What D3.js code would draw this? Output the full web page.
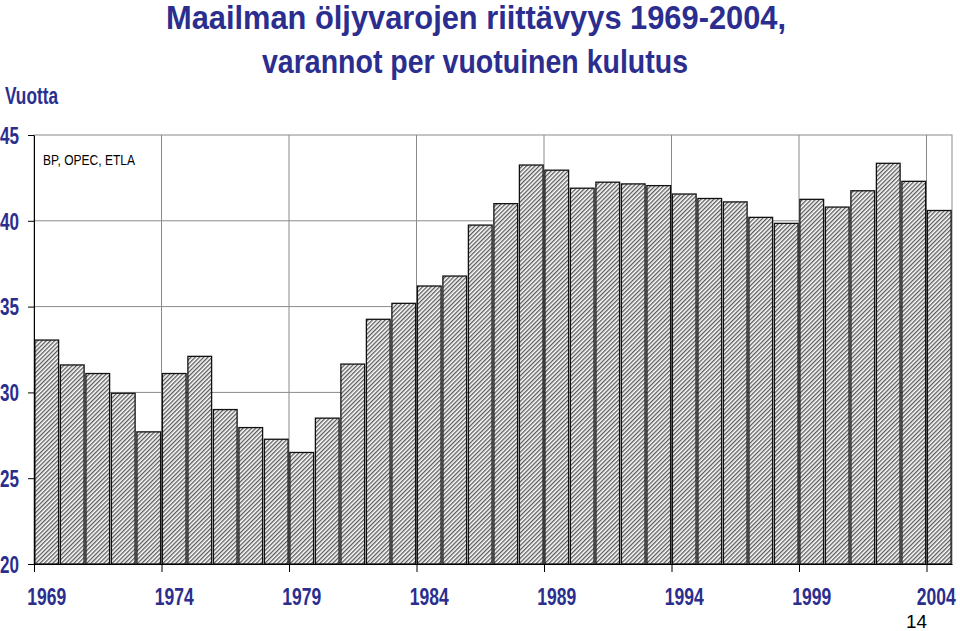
<!DOCTYPE html>
<html>
<head>
<meta charset="utf-8">
<script src="https://cdn.jsdelivr.net/npm/d3@7"></script>
<style>
  html, body { margin: 0; padding: 0; background: #fff; }
  svg { display: block; }
</style>
</head>
<body>
<div id="chart"></div>
<script>
/* ── Data ── */
const years = [
  1969, 1970, 1971, 1972, 1973, 1974, 1975, 1976, 1977, 1978, 1979, 1980,
  1981, 1982, 1983, 1984, 1985, 1986, 1987, 1988, 1989, 1990, 1991, 1992,
  1993, 1994, 1995, 1996, 1997, 1998, 1999, 2000, 2001, 2002, 2003, 2004,
];
const reserveYears = [
  33.05, 31.6, 31.1, 29.95, 27.7, 31.1, 32.1, 29.0, 27.95, 27.27, 26.5, 28.5,
  31.65, 34.26, 35.19, 36.2, 36.78, 39.75, 41.0, 43.25, 42.95, 41.9, 42.25, 42.15,
  42.05, 41.56, 41.3, 41.1, 40.2, 39.85, 41.25, 40.8, 41.75, 43.35, 42.3, 40.6,
];
const yTicks = [20, 25, 30, 35, 40, 45];
const xLabelYears = [1969, 1974, 1979, 1984, 1989, 1994, 1999, 2004];
const titleLines = ['Maailman öljyvarojen riittävyys 1969-2004,', 'varannot per vuotuinen kulutus'];

const W = 960, H = 631;
const BLUE = '#2b2e8e';
const GRID = '#8a8a8a';
const FONT = "'Liberation Sans', Arial, sans-serif";

const plot = { left: 34, right: 952, top: 135, bottom: 564 };

const svg = d3.select('#chart').append('svg')
  .attr('width', W).attr('height', H);

/* hatch fill */
const defs = svg.append('defs');
const pat = defs.append('pattern')
  .attr('id', 'hatch')
  .attr('patternUnits', 'userSpaceOnUse')
  .attr('width', 3).attr('height', 3)
  .attr('patternTransform', 'rotate(45)');
pat.append('rect').attr('width', 3).attr('height', 3).attr('fill', '#fff');
pat.append('line')
  .attr('x1', 0.75).attr('y1', 0).attr('x2', 0.75).attr('y2', 3)
  .attr('stroke', '#222').attr('stroke-width', 1);

/* ── Scales ── */
const yearEdge = d3.scaleLinear()
  .domain([years[0], years[years.length - 1] + 1])
  .range([plot.left, plot.right]);
const x = d3.scaleBand()
  .domain(years)
  .range([plot.left, plot.right])
  .paddingInner(0.07)
  .paddingOuter(0.035);
const y = d3.scaleLinear()
  .domain([20, 45])
  .range([plot.bottom, plot.top]);

/* ── Grid ── */
const grid = svg.append('g');
grid.selectAll('line.h')
  .data(yTicks.slice(1, -1))
  .join('line')
  .attr('x1', plot.left).attr('x2', plot.right)
  .attr('y1', d => y(d)).attr('y2', d => y(d))
  .attr('stroke', GRID).attr('stroke-width', 1);
grid.selectAll('line.v')
  .data(xLabelYears.slice(1))
  .join('line')
  .attr('x1', d => yearEdge(d)).attr('x2', d => yearEdge(d))
  .attr('y1', plot.top).attr('y2', plot.bottom)
  .attr('stroke', GRID).attr('stroke-width', 1);
grid.append('rect')
  .attr('x', plot.left).attr('y', plot.top)
  .attr('width', plot.right - plot.left)
  .attr('height', plot.bottom - plot.top)
  .attr('fill', 'none')
  .attr('stroke', GRID).attr('stroke-width', 1);

/* ── Bars ── */
svg.append('g').selectAll('rect')
  .data(years.map((yr, i) => ({ yr, v: reserveYears[i] })))
  .join('rect')
  .attr('x', d => x(d.yr))
  .attr('y', d => y(d.v))
  .attr('width', x.bandwidth())
  .attr('height', d => y(20) - y(d.v))
  .attr('fill', 'url(#hatch)')
  .attr('stroke', '#111')
  .attr('stroke-width', 1.3);

/* ── Axes ── */
const yAxis = svg.append('g')
  .attr('transform', `translate(${plot.left},0)`)
  .call(d3.axisLeft(y).tickValues(yTicks).tickSize(6).tickPadding(9).tickSizeOuter(0));
yAxis.select('.domain').attr('stroke', '#000');
yAxis.selectAll('.tick line').attr('stroke', '#000');
yAxis.selectAll('text')
  .attr('fill', BLUE)
  .attr('font-family', FONT)
  .attr('font-weight', 'bold')
  .attr('font-size', 23)
  .attr('textLength', 19)
  .attr('lengthAdjust', 'spacingAndGlyphs')
  .attr('dy', '0.36em');

const xTicks = svg.append('g')
  .attr('transform', `translate(0,${plot.bottom})`)
  .call(d3.axisBottom(yearEdge).tickValues(xLabelYears).tickSize(8).tickFormat('').tickSizeOuter(0));
xTicks.select('.domain').attr('stroke', '#000');
xTicks.selectAll('.tick line').attr('stroke', '#000');

const xLabels = svg.append('g')
  .attr('transform', `translate(0,${plot.bottom})`)
  .call(d3.axisBottom(x).tickValues(xLabelYears).tickSize(0).tickPadding(25));
xLabels.select('.domain').remove();
xLabels.selectAll('text')
  .attr('fill', BLUE)
  .attr('font-family', FONT)
  .attr('font-weight', 'bold')
  .attr('font-size', 23)
  .attr('textLength', 39)
  .attr('lengthAdjust', 'spacingAndGlyphs');
xLabels.selectAll('.tick')
  .filter(d => d === 2004)
  .select('text')
  .attr('x', -3);

/* ── Titles & notes ── */
const title = svg.append('g')
  .attr('fill', BLUE)
  .attr('font-family', FONT)
  .attr('font-weight', 'bold')
  .attr('text-anchor', 'middle');
title.append('text')
  .attr('x', 476).attr('y', 29)
  .attr('font-size', 34)
  .attr('textLength', 620).attr('lengthAdjust', 'spacingAndGlyphs')
  .text(titleLines[0]);
title.append('text')
  .attr('x', 475).attr('y', 73)
  .attr('font-size', 34)
  .attr('textLength', 426).attr('lengthAdjust', 'spacingAndGlyphs')
  .text(titleLines[1]);

svg.append('text')
  .attr('x', 5).attr('y', 104)
  .attr('fill', BLUE)
  .attr('font-family', FONT)
  .attr('font-weight', 'bold')
  .attr('font-size', 23)
  .attr('textLength', 53).attr('lengthAdjust', 'spacingAndGlyphs')
  .text('Vuotta');

svg.append('text')
  .attr('x', 43).attr('y', 165)
  .attr('fill', '#000')
  .attr('font-family', FONT)
  .attr('font-size', 15)
  .attr('textLength', 92).attr('lengthAdjust', 'spacingAndGlyphs')
  .text('BP, OPEC, ETLA');

svg.append('text')
  .attr('x', 906).attr('y', 628)
  .attr('fill', '#000')
  .attr('font-family', FONT)
  .attr('font-size', 18)
  .attr('textLength', 21).attr('lengthAdjust', 'spacingAndGlyphs')
  .text('14');
</script>
</body>
</html>
